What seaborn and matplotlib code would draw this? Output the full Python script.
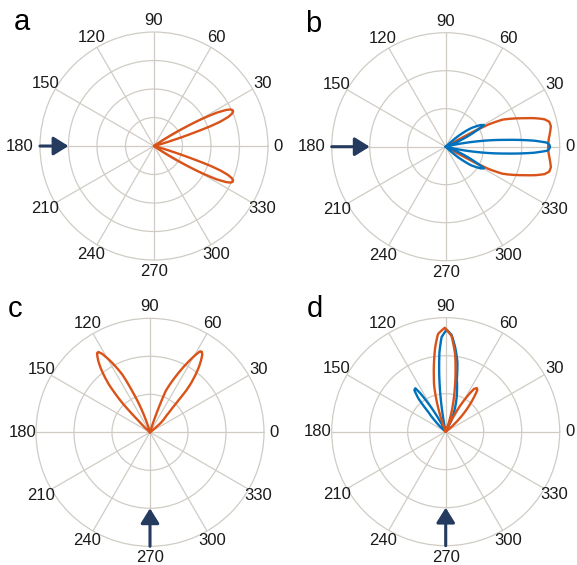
import numpy as np
import matplotlib
matplotlib.use('Agg')
import matplotlib.pyplot as plt
import seaborn as sns

sns.set_style('white')
plt.rcParams['font.family'] = ['Liberation Sans', 'DejaVu Sans']

ORANGE = '#d95319'
BLUE = '#0072bd'
NAVY = '#243a5e'
GRID = '#d0ccc5'

# angle labels (deg)
angle_ticks = [0, 30, 60, 90, 120, 150, 180, 210, 240, 270, 300, 330]
angle_labels = [str(a) for a in angle_ticks]

# panel a : two narrow lobes, orange
a_theta = [-35, -33, -31, -29.5, -28, -26.5, -25.5, -24.5, -23.5, -22.5, -21.4, -20.2, -19.3, -18.5, -17, -15,
           15, 17, 18.5, 19.3, 20.2, 21.4, 22.5, 23.5, 24.5, 25.5, 26.5, 28, 29.5, 31, 33, 35]
a_r = [0, 0.14, 0.32, 0.48, 0.62, 0.71, 0.745, 0.758, 0.757, 0.74, 0.70, 0.62, 0.52, 0.38, 0.16, 0,
       0, 0.16, 0.38, 0.52, 0.62, 0.70, 0.74, 0.757, 0.758, 0.745, 0.71, 0.62, 0.48, 0.32, 0.14, 0]

# panel b : broad orange lobe + blue main lobe with side lobes
b_orange_theta = [-29.5, -28.5, -27.5, -25.5, -23, -20, -17.5, -15.5, -13.5, -11, -8, -4,
                  0, 4, 8, 11, 13.5, 15.5, 17.5, 20, 23, 25.5, 27.5, 28.5, 29.5]
b_orange_r = [0, 0.25, 0.42, 0.55, 0.63, 0.73, 0.83, 0.90, 0.935, 0.94, 0.925, 0.905,
              0.898, 0.905, 0.925, 0.94, 0.935, 0.90, 0.83, 0.73, 0.63, 0.55, 0.42, 0.25, 0]
b_blue_theta = [-44, -40.6, -36.3, -31.8, -29.5, -27.8, -24.4, -21.8, -18,
                -14, -12.5, -10, -6.5, -3.9, -2.25, -1, 0, 1, 2.25, 3.9, 6.5, 10, 12.5, 14,
                18, 21.8, 24.4, 27.8, 29.5, 31.8, 36.3, 40.6, 44]
b_blue_r = [0, 0.135, 0.272, 0.361, 0.386, 0.314, 0.177, 0.079, 0,
            0, 0.08, 0.252, 0.53, 0.777, 0.892, 0.91, 0.915, 0.91, 0.892, 0.777, 0.53, 0.252, 0.08, 0,
            0, 0.079, 0.177, 0.314, 0.386, 0.361, 0.272, 0.135, 0]

# panel c : two orange lobes near 57 and 123
c_theta = [38.5, 41.1, 45.4, 47.4, 48.4, 49.0, 50.1, 51.7, 53.1, 54.6, 56.0, 57.2, 58.3, 59.5,
           62.2, 65.3, 69.2, 70.8, 72, 73,
           106, 108, 110, 113.3, 115.6, 118.5, 121.3, 122.7, 123.8, 124.7, 126, 127.5, 129,
           130.7, 131.9, 133.3, 135, 137, 139]
c_r = [0, 0.125, 0.206, 0.289, 0.384, 0.477, 0.561, 0.645, 0.713, 0.772, 0.82, 0.84, 0.835, 0.789,
       0.671, 0.539, 0.385, 0.195, 0.08, 0,
       0, 0.09, 0.196, 0.391, 0.561, 0.692, 0.804, 0.838, 0.835, 0.811, 0.77, 0.711, 0.64,
       0.551, 0.46, 0.354, 0.136, 0.05, 0]

# panel d : main lobe at 90 with one side lobe each
d_orange_theta = [37, 41.8, 46, 50.3, 52.8, 54.5, 56.5, 58.3, 61.5, 64, 66,
                  69, 71.5, 75, 78, 80.5, 83, 86.5, 90.5, 94.5, 97, 99.5, 102, 104, 106.5, 108.5, 110.5, 112]
d_orange_r = [0, 0.11, 0.244, 0.38, 0.459, 0.47, 0.45, 0.378, 0.233, 0.10, 0,
              0, 0.10, 0.24, 0.38, 0.52, 0.68, 0.84, 0.912, 0.86, 0.75, 0.62, 0.50, 0.42, 0.28, 0.16, 0.06, 0]
d_blue_theta = [62, 64, 68.5, 74.5, 78, 80.5, 83.5, 86.5, 89.5, 92.5, 94.5, 96, 97.5, 99.5, 101, 103,
                116, 118.8, 121.5, 123.5, 125, 127, 129.4, 131.5, 135, 139, 141]
d_blue_r = [0, 0.11, 0.22, 0.37, 0.47, 0.62, 0.74, 0.85, 0.895, 0.83, 0.70, 0.55, 0.40, 0.20, 0.08, 0,
            0, 0.134, 0.28, 0.405, 0.465, 0.457, 0.378, 0.232, 0.12, 0.04, 0]

panels = [
    dict(letter='a', rect=[0.0693, 0.5398, 0.3951, 0.4035], rings=[0.25, 0.5, 0.75],
         curves=[(a_theta, a_r, ORANGE)], arrow=(180, 0.75), lpos=(0.024, 0.947), r180=1.175),
    dict(letter='b', rect=[0.5749, 0.5386, 0.3951, 0.4035], rings=[1/3, 2/3],
         curves=[(b_orange_theta, b_orange_r, ORANGE), (b_blue_theta, b_blue_r, BLUE)],
         arrow=(180, 2/3), lpos=(0.528, 0.944), r180=1.175),
    dict(letter='c', rect=[0.0624, 0.0331, 0.3951, 0.4035], rings=[1/3, 2/3],
         curves=[(c_theta, c_r, ORANGE)], arrow=(270, 2/3), lpos=(0.013, 0.439), r180=1.12),
    dict(letter='d', rect=[0.5749, 0.0342, 0.3951, 0.4035], rings=[1/3, 2/3],
         curves=[(d_blue_theta, d_blue_r, BLUE), (d_orange_theta, d_orange_r, ORANGE)],
         arrow=(270, 2/3), lpos=(0.531, 0.439), r180=1.12),
]

fig = plt.figure(figsize=(5.77, 5.65), dpi=100)

for p in panels:
    ax = fig.add_axes(p['rect'], projection='polar')
    for th, r, col in p['curves']:
        sns.lineplot(x=np.deg2rad(th), y=r, ax=ax, color=col, linewidth=1.7,
                     sort=False, estimator=None, legend=False)
    # let the polar transform bend the segments between read points
    for ln in ax.lines:
        ln.get_path()._interpolation_steps = 20
    ax.set_ylim(0, 1)
    ax.set_yticks(p['rings'])
    ax.set_yticklabels([])
    ax.set_xticks(np.deg2rad(angle_ticks))
    ax.set_xticklabels([])
    ax.set_xlabel('')
    ax.set_ylabel('')
    ax.grid(True, color=GRID, linewidth=0.9)
    ax.spines['polar'].set_edgecolor(GRID)
    ax.spines['polar'].set_linewidth(0.9)
    ax.tick_params(length=0)
    for a, lab in zip(angle_ticks, angle_labels):
        rl = 1.1
        if a == 0:
            rl = 1.09
        elif a == 180:
            rl = p['r180']
        ax.text(np.deg2rad(a), rl, lab, ha='center', va='center', fontsize=12,
                color='#1a1a1a', clip_on=False)
    ang, tip = p['arrow']
    ax.annotate('', xy=(np.deg2rad(ang), tip), xytext=(np.deg2rad(ang), 1.0),
                arrowprops=dict(arrowstyle='-|>,head_length=0.45,head_width=0.28',
                                color=NAVY, lw=2.2, shrinkA=0, shrinkB=0,
                                mutation_scale=20),
                annotation_clip=False)
    fig.text(p['lpos'][0], p['lpos'][1], p['letter'], fontsize=21, color='black',
             va='baseline', ha='left')

fig.savefig('out.png', dpi=100)
